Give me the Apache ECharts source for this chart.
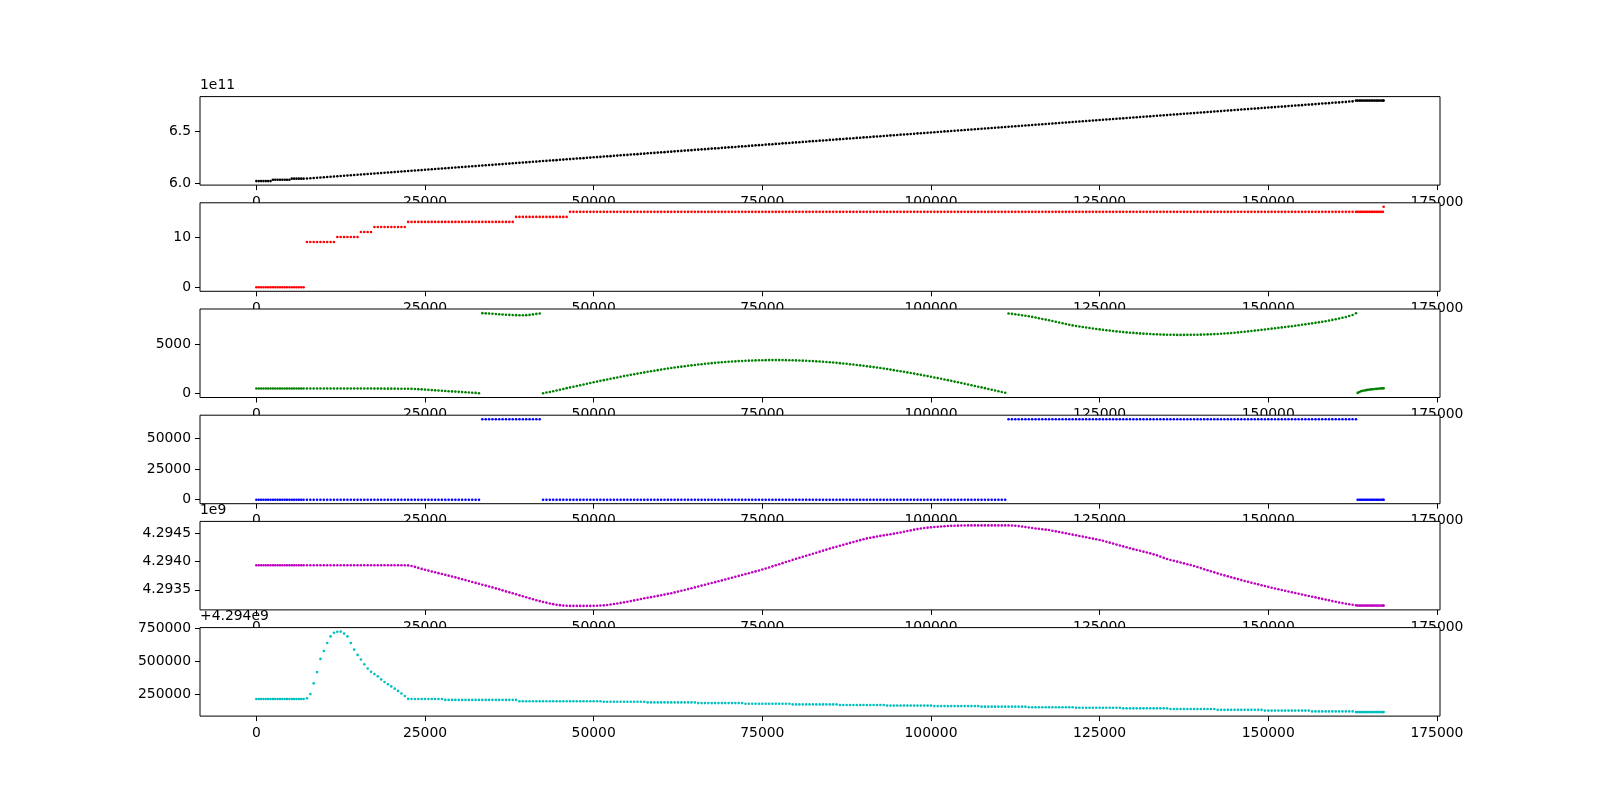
<!DOCTYPE html>
<html><head><meta charset="utf-8">
<script src="https://cdn.jsdelivr.net/npm/echarts@6/dist/echarts.min.js"></script>
<style>html,body{margin:0;padding:0;background:#fff}#c{width:1600px;height:805px}</style>
</head><body><div id="c"></div>
<script>
// ---- sample times, first pass (shared by all six panels) ----
const T = [
0,350,700,1050,1400,1750,2100,2450,2800,3150,3500,3850,4200,4550,4900,5250,5600,5950,6300,6650,7000,
7500,8500,9500,10500,11500,12500,13500,14500,15500,16500,
17500,18500,19500,20500,21500,22500,23500,24500,25500,26500,
27500,28500,29500,30500,31500,32500,33500,34500,35500,36500,
37500,38500,39500,40500,41500,42500,43500,44500,45500,46500,
47500,48500,49500,50500,51500,52500,53500,54500,55500,56500,
57500,58500,59500,60500,61500,62500,63500,64500,65500,66500,
67500,68500,69500,70500,71500,72500,73500,74500,75500,76500,
77500,78500,79500,80500,81500,82500,83500,84500,85500,86500,
87500,88500,89500,90500,91500,92500,93500,94500,95500,96500,
97500,98500,99500,100500,101500,102500,103500,104500,105500,106500,
107500,108500,109500,110500,111500,112500,113500,114500,115500,116500,
117500,118500,119500,120500,121500,122500,123500,124500,125500,126500,
127500,128500,129500,130500,131500,132500,133500,134500,135500,136500,
137500,138500,139500,140500,141500,142500,143500,144500,145500,146500,
147500,148500,149500,150500,151500,152500,153500,154500,155500,156500,
157500,158500,159500,160500,161500,162500,
163000,163250,163500,163750,164000,164250,164500,164750,165000,165250,165500,165750,166000,166250,166500,166750,167000,167100
];
// ---- sample times, second pass (in between) ----
const T2 = [
8000,9000,10000,11000,12000,13000,14000,15000,16000,17000,
18000,19000,20000,21000,22000,23000,24000,25000,26000,27000,
28000,29000,30000,31000,32000,33000,34000,35000,36000,37000,
38000,39000,40000,41000,42000,43000,44000,45000,46000,47000,
48000,49000,50000,51000,52000,53000,54000,55000,56000,57000,
58000,59000,60000,61000,62000,63000,64000,65000,66000,67000,
68000,69000,70000,71000,72000,73000,74000,75000,76000,77000,
78000,79000,80000,81000,82000,83000,84000,85000,86000,87000,
88000,89000,90000,91000,92000,93000,94000,95000,96000,97000,
98000,99000,100000,101000,102000,103000,104000,105000,106000,107000,
108000,109000,110000,111000,112000,113000,114000,115000,116000,117000,
118000,119000,120000,121000,122000,123000,124000,125000,126000,127000,
128000,129000,130000,131000,132000,133000,134000,135000,136000,137000,
138000,139000,140000,141000,142000,143000,144000,145000,146000,147000,
148000,149000,150000,151000,152000,153000,154000,155000,156000,157000,
158000,159000,160000,161000,162000
];

// panel 1 (black), in units of 1e11
const BLACK = [
6.022,6.022,6.022,6.022,6.022,6.022,6.022,6.035,6.035,6.035,6.035,6.035,6.035,6.035,6.035,6.045,6.045,6.045,6.045,6.045,6.045,
6.047,6.051,6.056,6.061,6.066,6.070,6.075,6.080,6.085,6.089,
6.094,6.099,6.104,6.108,6.113,6.118,6.123,6.127,6.132,6.137,
6.142,6.146,6.151,6.156,6.161,6.165,6.170,6.175,6.180,6.184,
6.189,6.194,6.199,6.203,6.208,6.213,6.218,6.222,6.227,6.232,
6.237,6.241,6.246,6.251,6.256,6.260,6.265,6.270,6.275,6.279,
6.284,6.289,6.294,6.298,6.303,6.308,6.313,6.317,6.322,6.327,
6.332,6.336,6.341,6.346,6.351,6.355,6.360,6.365,6.370,6.374,
6.379,6.384,6.389,6.393,6.398,6.403,6.408,6.412,6.417,6.422,
6.427,6.431,6.436,6.441,6.446,6.450,6.455,6.460,6.465,6.469,
6.474,6.479,6.484,6.488,6.493,6.498,6.503,6.507,6.512,6.517,
6.522,6.526,6.531,6.536,6.541,6.545,6.550,6.555,6.560,6.564,
6.569,6.574,6.579,6.583,6.588,6.593,6.598,6.602,6.607,6.612,
6.617,6.621,6.626,6.631,6.636,6.640,6.645,6.650,6.655,6.659,
6.664,6.669,6.674,6.678,6.683,6.688,6.693,6.697,6.702,6.707,
6.712,6.716,6.721,6.726,6.731,6.735,6.740,6.745,6.750,6.754,
6.759,6.764,6.769,6.773,6.778,6.783,
6.790,6.790,6.790,6.790,6.790,6.790,6.790,6.790,6.790,6.790,6.790,6.790,6.790,6.790,6.790,6.790,6.790,6.790
];
const BLACK2 = [
6.049,6.054,6.059,6.063,6.068,6.073,6.078,6.082,6.087,6.092,
6.097,6.101,6.106,6.111,6.116,6.120,6.125,6.130,6.135,6.139,
6.144,6.149,6.154,6.158,6.163,6.168,6.173,6.177,6.182,6.187,
6.192,6.196,6.201,6.206,6.211,6.215,6.220,6.225,6.230,6.234,
6.239,6.244,6.249,6.253,6.258,6.263,6.268,6.272,6.277,6.282,
6.287,6.291,6.296,6.301,6.306,6.310,6.315,6.320,6.325,6.329,
6.334,6.339,6.344,6.348,6.353,6.358,6.363,6.367,6.372,6.377,
6.382,6.386,6.391,6.396,6.401,6.405,6.410,6.415,6.420,6.424,
6.429,6.434,6.439,6.443,6.448,6.453,6.458,6.462,6.467,6.472,
6.477,6.481,6.486,6.491,6.496,6.500,6.505,6.510,6.515,6.519,
6.524,6.529,6.534,6.538,6.543,6.548,6.553,6.557,6.562,6.567,
6.572,6.576,6.581,6.586,6.591,6.595,6.600,6.605,6.610,6.614,
6.619,6.624,6.629,6.633,6.638,6.643,6.648,6.652,6.657,6.662,
6.667,6.671,6.676,6.681,6.686,6.690,6.695,6.700,6.705,6.709,
6.714,6.719,6.724,6.728,6.733,6.738,6.743,6.747,6.752,6.757,
6.762,6.766,6.771,6.776,6.781
];

// panel 2 (red)
const RED = [
0,0,0,0,0,0,0,0,0,0,0,0,0,0,0,0,0,0,0,0,0,
9,9,9,9,9,10,10,10,11,11,
12,12,12,12,12,13,13,13,13,13,
13,13,13,13,13,13,13,13,13,13,
13,14,14,14,14,14,14,14,14,15,
15,15,15,15,15,15,15,15,15,15,
15,15,15,15,15,15,15,15,15,15,
15,15,15,15,15,15,15,15,15,15,
15,15,15,15,15,15,15,15,15,15,
15,15,15,15,15,15,15,15,15,15,
15,15,15,15,15,15,15,15,15,15,
15,15,15,15,15,15,15,15,15,15,
15,15,15,15,15,15,15,15,15,15,
15,15,15,15,15,15,15,15,15,15,
15,15,15,15,15,15,15,15,15,15,
15,15,15,15,15,15,15,15,15,15,
15,15,15,15,15,15,
15,15,15,15,15,15,15,15,15,15,15,15,15,15,15,15,15,16
];
const RED2 = [
9,9,9,9,10,10,10,10,11,11,
12,12,12,12,12,13,13,13,13,13,
13,13,13,13,13,13,13,13,13,13,
13,14,14,14,14,14,14,14,14,15,
15,15,15,15,15,15,15,15,15,15,
15,15,15,15,15,15,15,15,15,15,
15,15,15,15,15,15,15,15,15,15,
15,15,15,15,15,15,15,15,15,15,
15,15,15,15,15,15,15,15,15,15,
15,15,15,15,15,15,15,15,15,15,
15,15,15,15,15,15,15,15,15,15,
15,15,15,15,15,15,15,15,15,15,
15,15,15,15,15,15,15,15,15,15,
15,15,15,15,15,15,15,15,15,15,
15,15,15,15,15,15,15,15,15,15,
15,15,15,15,15
];

// panel 3 (green)
const GREEN = [
500,500,500,500,500,500,500,500,500,500,500,500,500,500,500,500,500,500,500,500,500,
500,500,500,500,500,500,500,500,500,500,
495,495,490,490,485,480,460,420,370,320,
280,230,190,140,100,60,8180,8140,8090,8040,
8000,7975,7965,8000,8100,30,155,309,463,616,
767,917,1066,1211,1355,1495,1633,1767,1897,2023,
2146,2264,2377,2485,2588,2685,2777,2864,2944,3019,
3087,3148,3203,3252,3294,3329,3357,3378,3392,3399,
3399,3392,3378,3357,3329,3294,3252,3203,3148,3087,
3019,2944,2864,2777,2685,2588,2485,2377,2264,2146,
2023,1897,1767,1633,1495,1355,1211,1066,917,767,
616,463,309,155,8150,8060,7960,7860,7730,7590,
7450,7300,7150,6990,6870,6770,6670,6570,6480,6400,
6320,6250,6190,6140,6090,6050,6020,5990,5975,5965,
5965,5970,5980,6000,6030,6060,6110,6160,6220,6290,
6360,6440,6520,6600,6680,6770,6850,6940,7040,7140,
7240,7350,7490,7630,7790,7990,
8170,60,150,220,270,310,340,370,395,415,435,455,470,485,500,515,525,530
];
const GREEN2 = [
500,500,500,500,500,500,500,500,500,500,
495,490,490,488,483,470,440,395,345,300,
255,210,165,120,80,20,8160,8115,8065,8020,
7985,7968,7975,8050,8150,92,232,386,540,692,
842,992,1139,1283,1425,1564,1700,1832,1960,2085,
2205,2321,2431,2537,2637,2731,2821,2904,2982,3053,
3118,3176,3228,3273,3312,3343,3368,3385,3396,3400,
3396,3385,3368,3343,3312,3273,3228,3176,3118,3053,
2982,2904,2821,2731,2637,2537,2431,2321,2205,2085,
1960,1832,1700,1564,1425,1283,1139,992,842,692,
540,386,232,80,8105,8010,7910,7795,7660,7520,
7375,7225,7070,6930,6820,6720,6620,6525,6440,6360,
6285,6220,6165,6115,6070,6035,6005,5982,5970,5965,
5967,5975,5990,6015,6045,6085,6135,6190,6255,6325,
6400,6480,6560,6640,6725,6810,6895,6990,7090,7190,
7295,7420,7560,7710,7890
];

// panel 4 (blue)
const BLUE = [
0,0,0,0,0,0,0,0,0,0,0,0,0,0,0,0,0,0,0,0,0,
0,0,0,0,0,0,0,0,0,0,
0,0,0,0,0,0,0,0,0,0,
0,0,0,0,0,0,65535,65535,65535,65535,
65535,65535,65535,65535,65535,0,0,0,0,0,
0,0,0,0,0,0,0,0,0,0,
0,0,0,0,0,0,0,0,0,0,
0,0,0,0,0,0,0,0,0,0,
0,0,0,0,0,0,0,0,0,0,
0,0,0,0,0,0,0,0,0,0,
0,0,0,0,0,0,0,0,0,0,
0,0,0,0,65535,65535,65535,65535,65535,65535,
65535,65535,65535,65535,65535,65535,65535,65535,65535,65535,
65535,65535,65535,65535,65535,65535,65535,65535,65535,65535,
65535,65535,65535,65535,65535,65535,65535,65535,65535,65535,
65535,65535,65535,65535,65535,65535,65535,65535,65535,65535,
65535,65535,65535,65535,65535,65535,
65535,0,0,0,0,0,0,0,0,0,0,0,0,0,0,0,0,0
];
const BLUE2 = [
0,0,0,0,0,0,0,0,0,0,
0,0,0,0,0,0,0,0,0,0,
0,0,0,0,0,0,65535,65535,65535,65535,
65535,65535,65535,65535,65535,0,0,0,0,0,
0,0,0,0,0,0,0,0,0,0,
0,0,0,0,0,0,0,0,0,0,
0,0,0,0,0,0,0,0,0,0,
0,0,0,0,0,0,0,0,0,0,
0,0,0,0,0,0,0,0,0,0,
0,0,0,0,0,0,0,0,0,0,
0,0,0,0,65535,65535,65535,65535,65535,65535,
65535,65535,65535,65535,65535,65535,65535,65535,65535,65535,
65535,65535,65535,65535,65535,65535,65535,65535,65535,65535,
65535,65535,65535,65535,65535,65535,65535,65535,65535,65535,
65535,65535,65535,65535,65535,65535,65535,65535,65535,65535,
65535,65535,65535,65535,65535
];

// panel 5 (magenta), in units of 1e9
const MAGENTA = [
4.293935,4.293935,4.293935,4.293935,4.293935,4.293935,4.293935,4.293935,4.293935,4.293935,4.293935,4.293935,4.293935,4.293935,4.293935,4.293935,4.293935,4.293935,4.293935,4.293935,4.293935,
4.293935,4.293935,4.293935,4.293935,4.293935,4.293935,4.293935,4.293935,4.293935,4.293935,
4.293935,4.293935,4.293935,4.293935,4.293935,4.293932,4.293905,4.293870,4.293840,4.293810,
4.293780,4.293750,4.293720,4.293688,4.293655,4.293622,4.293590,4.293558,4.293525,4.293490,
4.293455,4.293420,4.293385,4.293350,4.293315,4.293285,4.293258,4.293235,4.293220,4.293215,
4.293215,4.293215,4.293215,4.293218,4.293225,4.293240,4.293258,4.293278,4.293300,4.293325,
4.293350,4.293370,4.293392,4.293415,4.293440,4.293468,4.293497,4.293527,4.293558,4.293590,
4.293620,4.293650,4.293682,4.293714,4.293746,4.293778,4.293810,4.293842,4.293877,4.293915,
4.293953,4.293991,4.294029,4.294067,4.294103,4.294139,4.294175,4.294211,4.294247,4.294280,
4.294313,4.294346,4.294379,4.294410,4.294432,4.294454,4.294474,4.294494,4.294515,4.294540,
4.294565,4.294585,4.294600,4.294612,4.294622,4.294630,4.294635,4.294638,4.294640,4.294640,
4.294640,4.294640,4.294640,4.294640,4.294640,4.294635,4.294620,4.294602,4.294586,4.294572,
4.294558,4.294535,4.294512,4.294488,4.294465,4.294442,4.294418,4.294395,4.294368,4.294335,
4.294300,4.294268,4.294235,4.294205,4.294175,4.294145,4.294110,4.294065,4.294028,4.293998,
4.293968,4.293938,4.293903,4.293865,4.293828,4.293790,4.293755,4.293722,4.293689,4.293656,
4.293626,4.293596,4.293566,4.293537,4.293510,4.293483,4.293456,4.293430,4.293404,4.293378,
4.293352,4.293326,4.293300,4.293275,4.293252,4.293235,
4.293225,4.293220,4.293220,4.293220,4.293220,4.293220,4.293220,4.293220,4.293220,4.293220,4.293220,4.293220,4.293220,4.293220,4.293220,4.293220,4.293220,4.293220
];
const MAGENTA2 = [
4.293935,4.293935,4.293935,4.293935,4.293935,4.293935,4.293935,4.293935,4.293935,4.293935,
4.293935,4.293935,4.293935,4.293935,4.293935,4.293920,4.293888,4.293855,4.293825,4.293795,
4.293765,4.293735,4.293704,4.293672,4.293638,4.293606,4.293574,4.293542,4.293508,4.293472,
4.293438,4.293402,4.293368,4.293332,4.293300,4.293272,4.293246,4.293228,4.293217,4.293215,
4.293215,4.293215,4.293216,4.293221,4.293232,4.293249,4.293268,4.293289,4.293312,4.293338,
4.293360,4.293381,4.293403,4.293428,4.293454,4.293482,4.293512,4.293542,4.293574,4.293605,
4.293635,4.293666,4.293698,4.293730,4.293762,4.293794,4.293826,4.293860,4.293896,4.293934,
4.293972,4.294010,4.294048,4.294085,4.294121,4.294157,4.294193,4.294229,4.294263,4.294296,
4.294330,4.294362,4.294394,4.294421,4.294443,4.294464,4.294484,4.294505,4.294528,4.294552,
4.294575,4.294593,4.294606,4.294617,4.294626,4.294632,4.294636,4.294639,4.294640,4.294640,
4.294640,4.294640,4.294640,4.294640,4.294638,4.294628,4.294611,4.294594,4.294579,4.294565,
4.294546,4.294523,4.294500,4.294476,4.294453,4.294430,4.294406,4.294382,4.294352,4.294318,
4.294284,4.294252,4.294220,4.294190,4.294160,4.294128,4.294088,4.294046,4.294013,4.293983,
4.293953,4.293920,4.293884,4.293846,4.293809,4.293772,4.293738,4.293706,4.293672,4.293641,
4.293611,4.293581,4.293552,4.293524,4.293496,4.293470,4.293443,4.293417,4.293391,4.293365,
4.293339,4.293313,4.293288,4.293264,4.293244
];

// panel 6 (cyan), shown relative to the +4.294e9 offset
const CYAN = [
217000,217000,217000,217000,217000,217000,217000,217000,217000,217000,217000,217000,217000,217000,217000,217000,217000,217000,217000,217000,217000,
222000,335000,520000,640000,718000,726000,690000,590000,515000,447000,
405000,365000,328000,295000,258000,218000,217000,217000,217000,217000,
217000,210000,210000,210000,210000,210000,210000,210000,210000,210000,
210000,210000,200000,200000,200000,200000,200000,200000,200000,200000,
200000,200000,200000,200000,196000,196000,196000,196000,196000,196000,
196000,191000,191000,191000,191000,191000,191000,191000,186000,186000,
186000,186000,186000,186000,186000,181000,181000,181000,181000,181000,
181000,181000,176000,176000,176000,176000,176000,176000,176000,172000,
172000,172000,172000,172000,172000,172000,167000,167000,167000,167000,
167000,167000,167000,163000,163000,163000,163000,163000,163000,163000,
159000,159000,159000,159000,159000,159000,159000,155000,155000,155000,
155000,155000,155000,155000,151000,151000,151000,151000,151000,151000,
151000,146000,146000,146000,146000,146000,146000,146000,141000,141000,
141000,141000,141000,141000,141000,135000,135000,135000,135000,135000,
135000,135000,129000,129000,129000,129000,129000,129000,129000,123000,
123000,123000,123000,123000,123000,123000,
118000,118000,118000,118000,118000,118000,118000,118000,118000,118000,118000,118000,118000,118000,118000,118000,118000,118000
];
const CYAN2 = [
255000,420000,580000,690000,725000,711000,640000,550000,480000,422000,
388000,345000,312000,278000,240000,217000,217000,217000,217000,217000,
210000,210000,210000,210000,210000,210000,210000,210000,210000,210000,
210000,200000,200000,200000,200000,200000,200000,200000,200000,200000,
200000,200000,200000,200000,196000,196000,196000,196000,196000,196000,
191000,191000,191000,191000,191000,191000,191000,191000,186000,186000,
186000,186000,186000,186000,186000,181000,181000,181000,181000,181000,
181000,181000,176000,176000,176000,176000,176000,176000,176000,172000,
172000,172000,172000,172000,172000,172000,167000,167000,167000,167000,
167000,167000,167000,163000,163000,163000,163000,163000,163000,163000,
159000,159000,159000,159000,159000,159000,159000,155000,155000,155000,
155000,155000,155000,155000,151000,151000,151000,151000,151000,151000,
151000,146000,146000,146000,146000,146000,146000,146000,141000,141000,
141000,141000,141000,141000,141000,135000,135000,135000,135000,135000,
135000,135000,129000,129000,129000,129000,129000,129000,129000,123000,
123000,123000,123000,123000,123000
];

// tick values / labels
const X_TICKS = [0,25000,50000,75000,100000,125000,150000,175000];
const Y_TICKS_BLACK = [6.0,6.5];
const Y_TICKS_RED = [0,10];
const Y_TICKS_GREEN = [0,5000];
const Y_TICKS_BLUE = [0,25000,50000];
const Y_TICKS_MAGENTA = [4.2935,4.2940,4.2945];
const Y_TICKS_CYAN = [250000,500000,750000];
const OFFSET_TEXTS = ['1e11','','','','1e9','+4.294e9'];

// ---- layout / styling ----
const LEFT = 200, WIDTH = 1240, H = 88.5;
const TOPS = [96.6, 202.8, 309.0, 415.2, 521.4, 627.6];
const FONT = 'DejaVu Sans';
const FS = 13.9;

const panels = [
  {a: BLACK, b: BLACK2, color:'#000000', min:5.9836, max:6.8284, ticks:Y_TICKS_BLACK, fmt:v=>v.toFixed(1)},
  {a: RED, b: RED2, color:'#ff0000', min:-0.8, max:16.8, ticks:Y_TICKS_RED, fmt:v=>String(v)},
  {a: GREEN, b: GREEN2, color:'#008000', min:-410, max:8601, ticks:Y_TICKS_GREEN, fmt:v=>String(v)},
  {a: BLUE, b: BLUE2, color:'#0000ff', min:-3277, max:68812, ticks:Y_TICKS_BLUE, fmt:v=>String(v)},
  {a: MAGENTA, b: MAGENTA2, color:'#bf00bf', min:4.293144, max:4.294711, ticks:Y_TICKS_MAGENTA, fmt:v=>v.toFixed(4)},
  {a: CYAN, b: CYAN2, color:'#00bfbf', min:87600, max:756400, ticks:Y_TICKS_CYAN, fmt:v=>String(v)}
];

const grid = [], xAxis = [], yAxis = [], series = [], graphic = [];
panels.forEach((p, i) => {
  const z = 10 * i;
  grid.push({left: LEFT, width: WIDTH, top: TOPS[i], height: H, show: true,
    backgroundColor: '#ffffff', borderColor: '#000000', borderWidth: 1, z: z});
  xAxis.push({type: 'value', gridIndex: i, min: -8355, max: 175455, z: z + 1, position: 'bottom',
    axisLine: {show: false, onZero: false},
    splitLine: {show: false},
    axisTick: {show: true, inside: false, length: 5, customValues: X_TICKS, lineStyle: {color: '#000', width: 1}},
    axisLabel: {show: true, customValues: X_TICKS, margin: 10, color: '#000', fontFamily: FONT, fontSize: FS,
      formatter: v => String(v)}
  });
  yAxis.push({type: 'value', gridIndex: i, min: p.min, max: p.max, z: z + 1, position: 'left',
    axisLine: {show: false, onZero: false},
    splitLine: {show: false},
    axisTick: {show: true, inside: false, length: 5, customValues: p.ticks, lineStyle: {color: '#000', width: 1}},
    axisLabel: {show: true, customValues: p.ticks, margin: 9, color: '#000', fontFamily: FONT, fontSize: FS,
      formatter: p.fmt}
  });
  const data = T.map((t, k) => [t, p.a[k]]).concat(T2.map((t, k) => [t, p.b[k]]));
  series.push({type: 'scatter', xAxisIndex: i, yAxisIndex: i, z: z + 2,
    symbol: 'circle', symbolSize: 2.6, silent: true,
    itemStyle: {color: p.color, opacity: 1},
    data: data
  });
  if (OFFSET_TEXTS[i]) {
    graphic.push({type: 'text', x: LEFT, y: TOPS[i] - 4, z: 200,
      style: {text: OFFSET_TEXTS[i], fill: '#000', fontFamily: FONT, fontSize: FS,
        align: 'left', verticalAlign: 'bottom'}});
  }
});

const chart = echarts.init(document.getElementById('c'), null, {renderer: 'canvas'});
chart.setOption({
  animation: false,
  backgroundColor: '#ffffff',
  grid, xAxis, yAxis, series, graphic
});
</script>
</body></html>
